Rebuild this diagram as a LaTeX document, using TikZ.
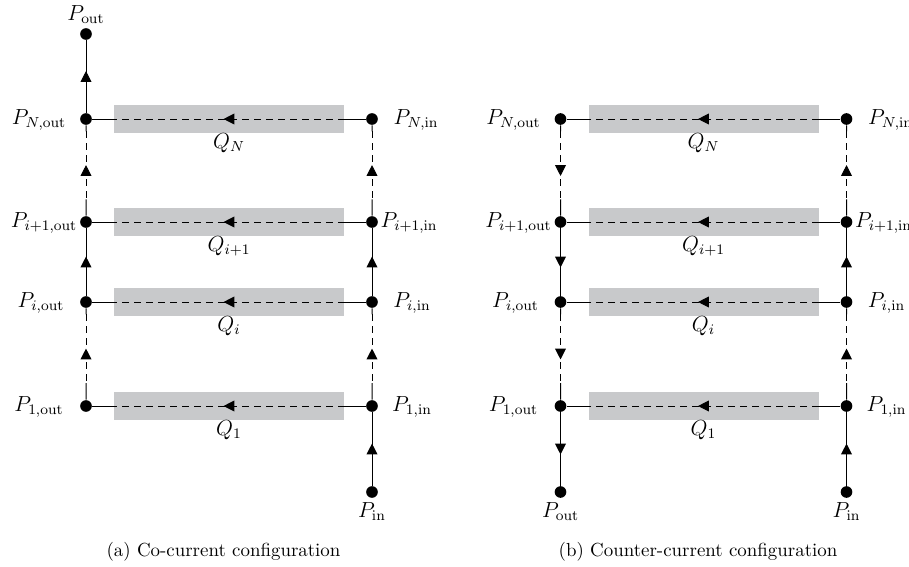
\documentclass[tikz,border=0pt]{standalone}
\usetikzlibrary{arrows.meta,decorations.markings,calc}
\definecolor{boxgray}{RGB}{200,201,203}
\tikzset{
  dot/.style={circle,fill=black,inner sep=0pt,minimum size=6.4pt},
  hx/.style={fill=boxgray,draw=none,inner sep=0pt,minimum width=126.5pt,minimum height=15.4pt},
  dsh/.style={dash pattern=on 3.8pt off 2.8pt},
  midarrow/.style={postaction={decorate},decoration={markings,
      mark=at position 0.5 with {\arrow[xshift=3pt]{Triangle[length=6pt,width=6pt]}}}},
  lbl/.style={inner sep=0pt,anchor=base,font=\fontsize{12}{14}\selectfont},
  qlbl/.style={inner sep=0pt,font=\fontsize{12}{14}\selectfont},
  captext/.style={inner sep=0pt,font=\fontsize{10.4}{12}\selectfont},
}
\newcommand\partdash[2]{%
  \draw (#1) -- ($(#1)!0.12!(#2)$);
  \draw[dsh] ($(#1)!0.12!(#2)$) -- ($(#1)!0.78!(#2)$);
  \draw ($(#1)!0.78!(#2)$) -- (#2);}
\newcommand\hrow[2]{%
  \draw (#1r) -- (#2.east);
  \draw[dsh] (#2.east) -- (#2.west);
  \draw (#2.west) -- (#1l);
  \path[midarrow] (#1r) -- (#1l);}
\begin{document}
\begin{tikzpicture}[x=0.55pt,y=-0.55pt,line width=0.55pt]
\useasboundingbox (0,0) rectangle (909,566);
\foreach \p/\dx in {a/0,b/474.5}{
\begin{scope}[xshift=\dx*0.55pt]
  % boxes
  \node[hx] (\p bN) at (229,119) {};
  \node[hx] (\p bj) at (229,222) {};
  \node[hx] (\p bi) at (229,302) {};
  \node[hx] (\p bo) at (229,406) {};
  % dots
  \node[dot] (\p Nl) at (86,119) {};  \node[dot] (\p Nr) at (372,119) {};
  \node[dot] (\p jl) at (86,222) {};  \node[dot] (\p jr) at (372,222) {};
  \node[dot] (\p il) at (86,302) {};  \node[dot] (\p ir) at (372,302) {};
  \node[dot] (\p ol) at (86,406) {};  \node[dot] (\p or) at (372,406) {};
  \node[dot] (\p in) at (372,492) {};
  % labels
  \node[lbl] (\p NlL) at (39,124) {$P_{N,\mathrm{out}}$};
  \node[lbl] (\p jlL) at (44,227) {$P_{i+1,\mathrm{out}}$};
  \node[lbl] (\p ilL) at (41,307) {$P_{i,\mathrm{out}}$};
  \node[lbl] (\p olL) at (39,411) {$P_{1,\mathrm{out}}$};
  \node[lbl] (\p NrL) at (416,124) {$P_{N,\mathrm{in}}$};
  \node[lbl] (\p jrL) at (409,227) {$P_{i+1,\mathrm{in}}$};
  \node[lbl] (\p irL) at (412,307) {$P_{i,\mathrm{in}}$};
  \node[lbl] (\p orL) at (412,411) {$P_{1,\mathrm{in}}$};
  \node[lbl] (\p inL) at (372,517) {$P_{\mathrm{in}}$};
  \node[qlbl] (\p QN) at (229,143) {$Q_N$};
  \node[qlbl] (\p Qj) at (229,246) {$Q_{i+1}$};
  \node[qlbl] (\p Qi) at (229,326) {$Q_i$};
  \node[qlbl] (\p Qo) at (229,430) {$Q_1$};
  % horizontal flows
  \hrow{\p N}{\p bN}
  \hrow{\p j}{\p bj}
  \hrow{\p i}{\p bi}
  \hrow{\p o}{\p bo}
  % right column (upward in both)
  \draw[midarrow] (\p in) -- (\p or);
  \partdash{\p ir}{\p or}
  \path[midarrow] (\p or) -- (\p ir);
  \draw[midarrow] (\p ir) -- (\p jr);
  \partdash{\p Nr}{\p jr}
  \path[midarrow] (\p jr) -- (\p Nr);
  % left column segments
  \partdash{\p Nl}{\p jl}
  \partdash{\p il}{\p ol}
\end{scope}}
% panel (a): co-current, left column upward
\node[dot] (atop) at (86,34) {};
\node[lbl] (atopL) at (86,20) {$P_{\mathrm{out}}$};
\draw[midarrow] (aNl) -- (atop);
\path[midarrow] (ajl) -- (aNl);
\draw[midarrow] (ail) -- (ajl);
\path[midarrow] (aol) -- (ail);
\node[captext] (capa) at (223.5,552) {(a) Co-current configuration};
% panel (b): counter-current, left column downward
\begin{scope}[xshift=474.5*0.55pt]
\node[dot] (bbot) at (86,492) {};
\node[lbl] (bbotL) at (86,517) {$P_{\mathrm{out}}$};
\end{scope}
\path[midarrow] (bNl) -- (bjl);
\draw[midarrow] (bjl) -- (bil);
\path[midarrow] (bil) -- (bol);
\draw[midarrow] (bol) -- (bbot);
\node[captext] (capb) at (698,552) {(b) Counter-current configuration};
\end{tikzpicture}
\end{document}
